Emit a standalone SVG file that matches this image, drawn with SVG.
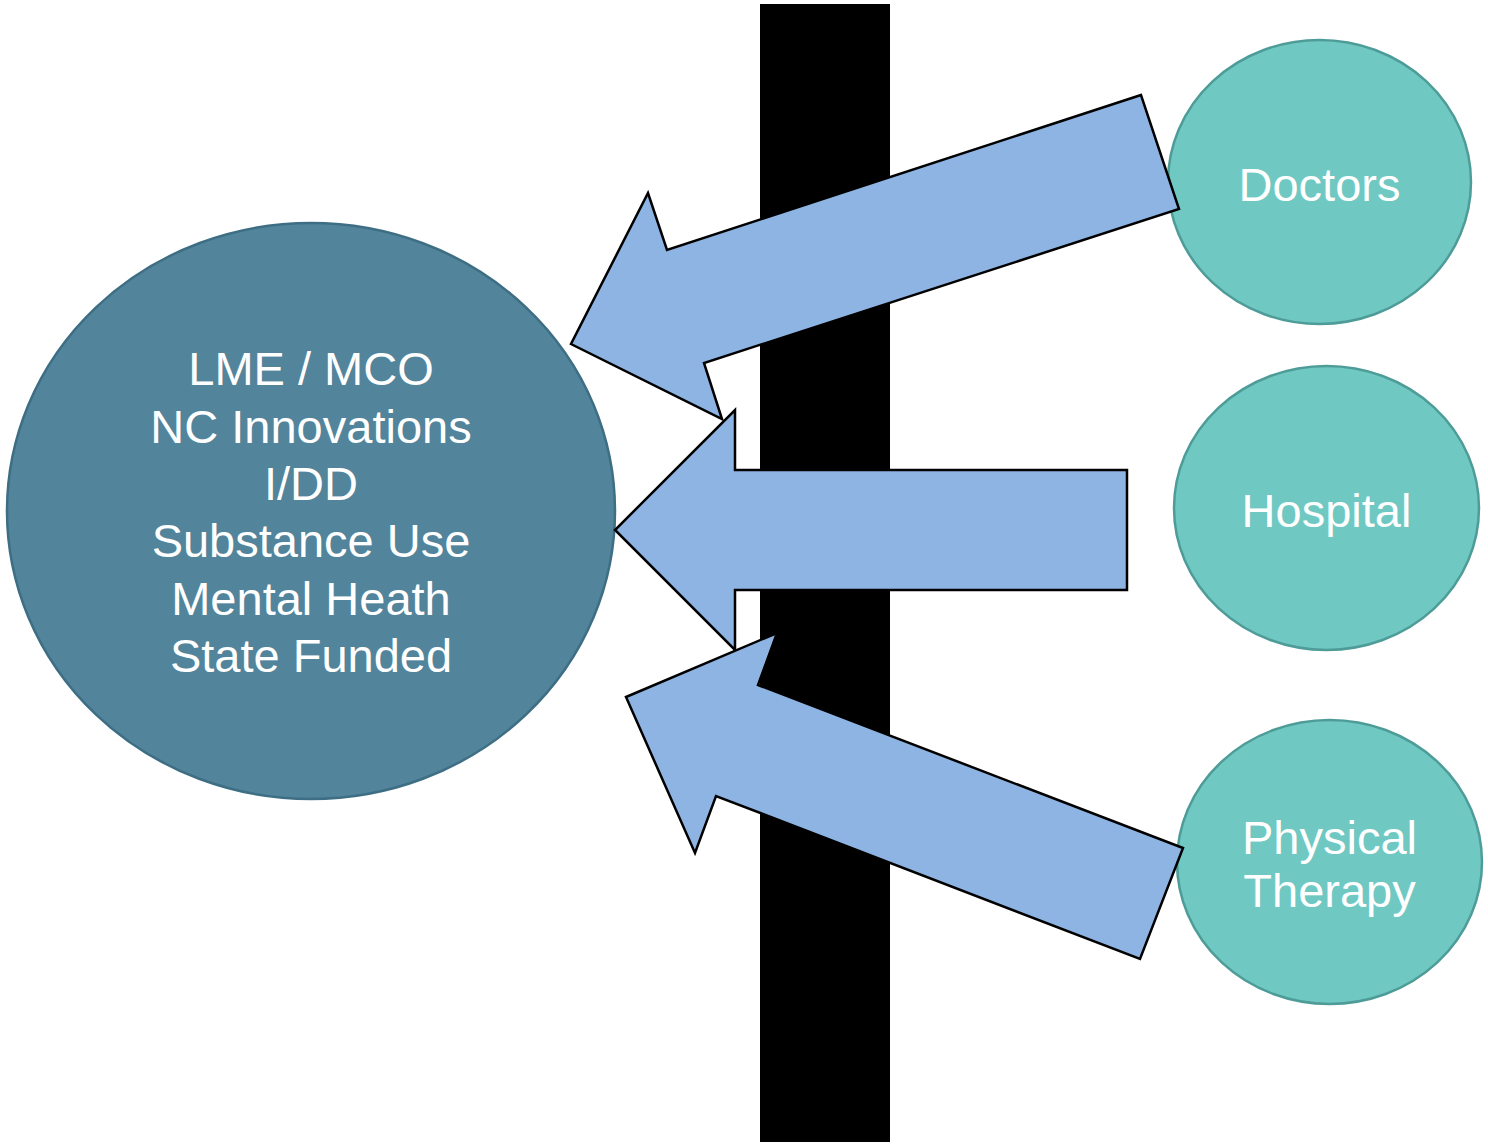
<svg xmlns="http://www.w3.org/2000/svg" width="1488" height="1147" viewBox="0 0 1488 1147">
<style>
.big{fill:#52849B;stroke:#3E6E84;stroke-width:2.5}
.small{fill:#70C8C3;stroke:#4E9C98;stroke-width:2.5}
.arrow{fill:#8EB4E3;stroke:#000;stroke-width:2.5;stroke-linejoin:miter}
text{font-family:"Liberation Sans",Arial,sans-serif;font-size:47px;fill:#fff;text-anchor:middle}
</style>
<rect x="0" y="0" width="1488" height="1147" fill="#fff"/>
<rect id="bar" x="760" y="4" width="130" height="1138" fill="#000"/>
<g id="lme">
<ellipse class="big" cx="311" cy="511" rx="304" ry="288"/>
<text x="311" y="385">LME / MCO</text>
<text x="311" y="443">NC Innovations</text>
<text x="311" y="500">I/DD</text>
<text x="311" y="557">Substance Use</text>
<text x="311" y="615">Mental Heath</text>
<text x="311" y="672">State Funded</text>
</g>
<g id="doctors">
<ellipse class="small" cx="1319.5" cy="182" rx="151.5" ry="142"/>
<text x="1319.5" y="201">Doctors</text>
</g>
<g id="hospital">
<ellipse class="small" cx="1326.5" cy="508" rx="152.5" ry="142"/>
<text x="1326.5" y="527">Hospital</text>
</g>
<g id="pt">
<ellipse class="small" cx="1329.5" cy="862" rx="152.5" ry="142"/>
<text x="1329.5" y="854">Physical</text>
<text x="1329.5" y="907">Therapy</text>
</g>
<g id="connectors">
<polygon class="arrow" points="1141,95 667,250 648,193 571,344 722,419 704,363 1179,209"/>
<polygon class="arrow" points="1127,470 735,470 735,410 615,530 735,650 735,590 1127,590"/>
<polygon class="arrow" points="1183,848 758,685 777,633 626,697 695,853 716,796 1140,959"/>
</g>
</svg>
